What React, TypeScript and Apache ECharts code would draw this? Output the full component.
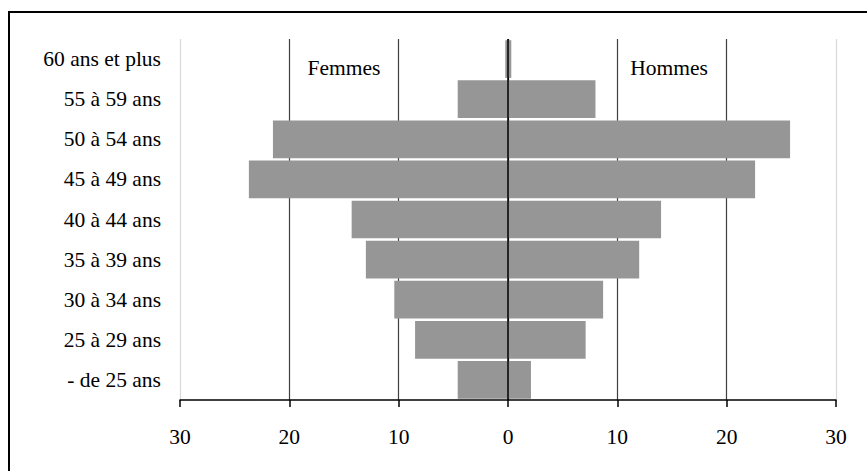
import React, { useEffect, useRef } from "react";
import * as echarts from "echarts";

const categories = [
  "- de 25 ans",
  "25 à 29 ans",
  "30 à 34 ans",
  "35 à 39 ans",
  "40 à 44 ans",
  "45 à 49 ans",
  "50 à 54 ans",
  "55 à 59 ans",
  "60 ans et plus",
];
const femmes = [4.6, 8.5, 10.4, 13.0, 14.3, 23.7, 21.5, 4.6, 0.25];
const hommes = [2.1, 7.1, 8.7, 12.0, 14.0, 22.6, 25.8, 8.0, 0.3];
const xTicks = [-30, -20, -10, 0, 10, 20, 30];
const seriesNames = ["Femmes", "Hommes"];

const FONT = "'Liberation Serif', 'Times New Roman', serif";
const FS = 21.5;

export default function App() {
  const ref = useRef<HTMLDivElement>(null);
  useEffect(() => {
    if (!ref.current) return;
    const chart = echarts.init(ref.current, undefined, { renderer: "svg" });
    const gridColors = xTicks.map((t) =>
      Math.abs(t) === 30 ? "#d9d9d9" : t === 0 ? "#000000" : "#404040"
    );
    chart.setOption({
      animation: false,
      backgroundColor: "#ffffff",
      textStyle: { fontFamily: FONT },
      grid: { left: 180, right: 31, top: 39, bottom: 71, containLabel: false },
      xAxis: {
        type: "value",
        min: xTicks[0],
        max: xTicks[xTicks.length - 1],
        interval: 10,
        axisLine: { show: true, onZero: false, lineStyle: { color: "#000", width: 1.5 } },
        axisTick: { show: true, length: 7, lineStyle: { color: "#000", width: 1.5 } },
        axisLabel: {
          color: "#000",
          fontSize: FS,
          fontFamily: FONT,
          margin: 26,
          formatter: (v: number) => String(Math.abs(v)),
        },
        splitLine: { show: true, lineStyle: { color: gridColors, width: 1.2 } },
      },
      yAxis: {
        type: "category",
        data: categories,
        axisLine: { show: false },
        axisTick: { show: false },
        axisLabel: { color: "#000", fontSize: FS, fontFamily: FONT, margin: 19 },
        splitLine: { show: false },
      },
      graphic: [
        {
          type: "rect",
          shape: { x: 9, y: 12, width: 900, height: 500 },
          style: { fill: "none", stroke: "#000", lineWidth: 2 },
          silent: true,
        },
        {
          type: "text",
          x: 344,
          y: 68,
          style: {
            text: seriesNames[0],
            fontSize: FS,
            fontFamily: FONT,
            fill: "#000",
            textAlign: "center",
            textVerticalAlign: "middle",
          },
        },
        {
          type: "text",
          x: 669,
          y: 68,
          style: {
            text: seriesNames[1],
            fontSize: FS,
            fontFamily: FONT,
            fill: "#000",
            textAlign: "center",
            textVerticalAlign: "middle",
          },
        },
      ],
      series: [
        {
          name: seriesNames[0],
          type: "bar",
          stack: "pyr",
          data: femmes.map((v) => -v),
          barCategoryGap: "6%",
          itemStyle: { color: "#969696" },
          markLine: {
            silent: true,
            symbol: "none",
            label: { show: false },
            lineStyle: { color: "#000", width: 1.5, type: "solid" },
            data: [{ xAxis: 0 }],
            z: 10,
          },
        },
        {
          name: seriesNames[1],
          type: "bar",
          stack: "pyr",
          data: hommes,
          barCategoryGap: "6%",
          itemStyle: { color: "#969696" },
        },
      ],
    });
    return () => chart.dispose();
  }, []);
  return (
    <div
      ref={ref}
      style={{ position: "fixed", left: 0, top: 0, width: 867, height: 471 }}
    />
  );
}
